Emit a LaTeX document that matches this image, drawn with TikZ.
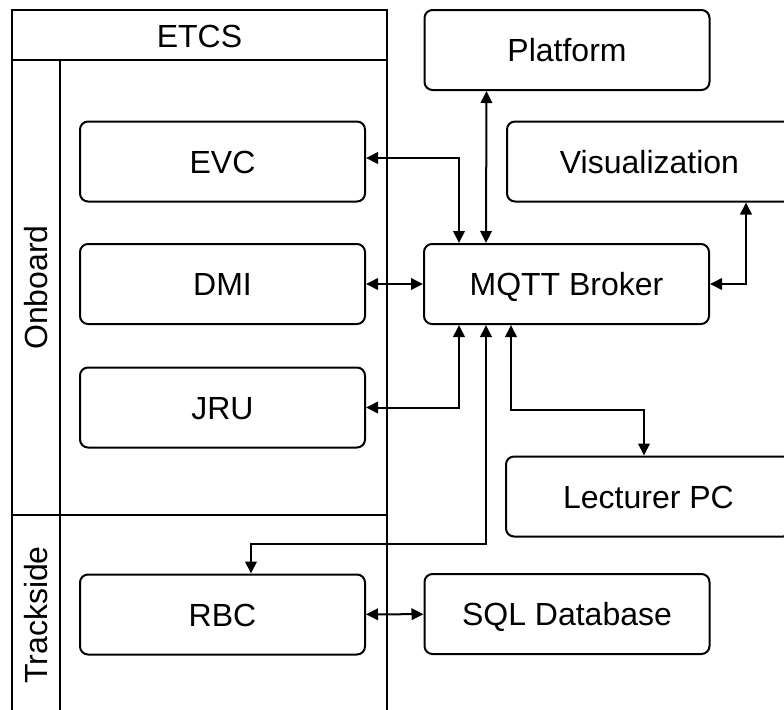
\documentclass[tikz,border=0pt]{standalone}
\usepackage{fontspec}
\setmainfont{Liberation Sans}
\usetikzlibrary{arrows.meta,calc,positioning}

\tikzset{
  block/.style={draw,rounded corners=4pt,minimum width=142.5pt,minimum height=40pt,inner sep=0pt,text height=11.5pt,text depth=0pt,font=\fontsize{16}{19}\selectfont},
  lane/.style={inner sep=0pt,text height=11.5pt,text depth=0pt,font=\fontsize{16}{19}\selectfont},
}

\begin{document}
\begin{tikzpicture}[x=0.5pt,y=-0.5pt,line width=1pt,>={Triangle[length=6pt,width=5.75pt]}]
  \useasboundingbox (0,0) rectangle (784,709);
  \clip (0,0) rectangle (784,709);

  % ETCS frame with lanes
  \draw (12,720) -- (12,10) -- (387,10) -- (387,720);
  \draw (12,60) -- (387,60);
  \draw (60,60) -- (60,720);
  \draw (12,515) -- (387,515);
  \node[lane] (etcs) at (199.5,36) {ETCS};
  \node[lane,rotate=90] (onboard) at (36,287.5) {Onboard};
  \node[lane,rotate=90] (trackside) at (36,615) {Trackside};

  % Onboard and trackside units
  \node[block] (evc) at (222.5,161.5) {EVC};
  \node[block] (dmi) at (222.5,284) {DMI};
  \node[block] (jru) at (222.5,407.5) {JRU};
  \node[block] (rbc) at (222.5,614.5) {RBC};

  % Outside systems
  \node[block] (platform) at (567,50) {Platform};
  \node[block] (vis) at (649.5,161.5) {Visualization};
  \node[block] (mqtt) at (566.5,284) {MQTT Broker};
  \node[block] (lecturer) at (648.5,496.5) {Lecturer PC};
  \node[block] (sql) at (567,614) {SQL Database};

  % Links to the broker
  \draw[<->] ($(evc.east)+(0,-3.5)$) -| ($(mqtt.north west)+(36,0)$);
  \draw[<->] ($(platform.south west)+(63,0)$) -- ($(mqtt.north west)+(63,0)$);
  \draw[<->] (dmi) -- (mqtt);
  \draw[<->] (jru.east) -| ($(mqtt.south west)+(36,0)$);
  \draw[<->] ($(mqtt.south west)+(63,0)$) |- ($(rbc.north west)+(172,-30)$) -- ($(rbc.north west)+(172,0)$);
  \draw[<->] ($(mqtt.south west)+(88,0)$) |- ($(lecturer.north west)+(139,-46)$) -- ($(lecturer.north west)+(139,0)$);
  \draw[<->] (mqtt.east) -| ($(vis.south west)+(240,0)$);
  \draw[<->] (rbc) -- (sql);
\end{tikzpicture}
\end{document}
